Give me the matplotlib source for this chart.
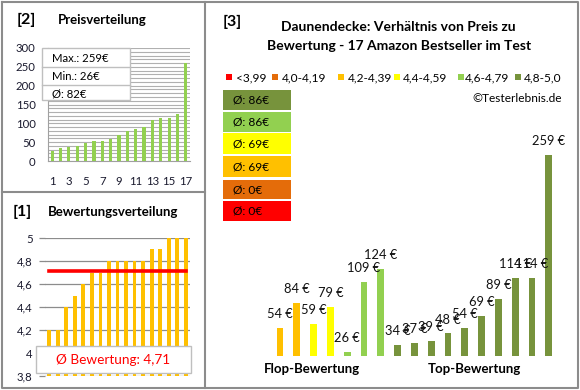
import matplotlib
matplotlib.use('Agg')
import matplotlib.pyplot as plt
from matplotlib.patches import Rectangle
from matplotlib.lines import Line2D

plt.rcParams['font.family'] = ['Lato', 'DejaVu Sans']

# ---------------- data ----------------
price_positions = list(range(1, 18))
price_sorted = [26, 34, 37, 39, 48, 54, 54, 59, 69, 79, 84, 89, 109, 114, 114, 124, 259]
price_xticks = [1, 3, 5, 7, 9, 11, 13, 15, 17]
price_yticks = [0, 50, 100, 150, 200, 250, 300]
price_stats = ["Max.: 259€", "Min.: 26€", "Ø: 82€"]

rating_sorted = [4.2, 4.2, 4.4, 4.5, 4.6, 4.7, 4.7, 4.8, 4.8, 4.8, 4.8, 4.8, 4.9, 4.9, 5.0, 5.0, 5.0]
rating_avg = 4.71
rating_yticks = [3.8, 4.0, 4.2, 4.4, 4.6, 4.8, 5.0]
rating_ytick_labels = ["3,8", "4", "4,2", "4,4", "4,6", "4,8", "5"]
rating_avg_label = "Ø Bewertung: 4,71"

p3_prices = [54, 84, 59, 79, 26, 109, 124, 34, 37, 39, 48, 54, 69, 89, 114, 114, 259]
p3_groups = [2, 2, 3, 3, 4, 4, 4, 5, 5, 5, 5, 5, 5, 5, 5, 5, 5]
legend_labels = ["<3,99", "4,0-4,19", "4,2-4,39", "4,4-4,59", "4,6-4,79", "4,8-5,0"]
legend_colors = ['#FF0000', '#E46C0A', '#FFC000', '#FFFF00', '#92D050', '#77933C']
group_avg_labels = ["Ø: 0€", "Ø: 0€", "Ø: 69€", "Ø: 69€", "Ø: 86€", "Ø: 86€"]  # same order as legend

W, H = 580, 390
fig = plt.figure(figsize=(W / 100, H / 100), dpi=100)

def fx(x):
    return x / W

def fy(y):
    return 1 - y / H

def ftext(x, y, s, **kw):
    fig.text(fx(x), fy(y), s, **kw)

def frect(x0, y0, x1, y1, **kw):
    fig.patches.append(Rectangle((fx(x0), fy(y1)), fx(x1) - fx(x0), fy(y0) - fy(y1),
                                 transform=fig.transFigure, figure=fig, **kw))

def fline(xs, ys, **kw):
    fig.lines.append(Line2D([fx(v) for v in xs], [fy(v) for v in ys],
                            transform=fig.transFigure, figure=fig, **kw))

border = '#8C8C8C'
fline([1.5, 578, 578, 1.5, 1.5], [1.5, 1.5, 388, 388, 1.5], color=border, lw=1.5)
fline([205, 205], [1.5, 388], color=border, lw=1.5)
fline([1.5, 205], [192, 192], color=border, lw=1.5)

# ---------------- panel [2] price distribution ----------------
ax2 = fig.add_axes([fx(48), fy(161), (190 - 48) / W, (161 - 48) / H])
ax2.bar(price_positions, price_sorted, width=0.38, color='#92D050', zorder=3)
ax2.set_xlim(0.5, 17.5)
ax2.set_ylim(0, 300)
ax2.set_yticks(price_yticks)
ax2.set_yticks(range(0, 301, 10), minor=True)
ax2.set_xticks(price_xticks)
ax2.grid(axis='y', which='both', color='#B0B0B0', lw=0.8, zorder=0)
ax2.tick_params(axis='both', which='both', length=0, labelsize=8.2, colors='#000000')
ax2.tick_params(axis='x', pad=11)
ax2.tick_params(axis='y', pad=9)
for s in ['top', 'right']:
    ax2.spines[s].set_visible(False)
ax2.spines['left'].set_color('#A0A0A0')
ax2.spines['bottom'].set_color('#A0A0A0')
for lab in ax2.get_xticklabels() + ax2.get_yticklabels():
    lab.set_color('#1a1a2e')

ftext(17, 20, "[2]", fontsize=11.5, fontweight='bold', va='center', ha='left')
ftext(58, 20, "Preisverteilung", fontsize=9.5, fontweight='bold', va='center', ha='left')

frect(42, 48, 130, 100, facecolor='white', edgecolor='#BFBFBF', lw=1.0, zorder=5)
fline([42, 130], [67, 67], color='#BFBFBF', lw=1.0, zorder=6)
fline([42, 130], [85, 85], color='#BFBFBF', lw=1.0, zorder=6)
for i, s in enumerate(price_stats):
    ftext(52, 59 + i * 17.5, s, fontsize=8.2, va='center', ha='left', zorder=7)

# ---------------- panel [1] rating distribution ----------------
ax1 = fig.add_axes([fx(45), fy(376), (190 - 45) / W, (376 - 238) / H])
ax1.bar(price_positions, [r - 3.8 for r in rating_sorted], bottom=3.8, width=0.45,
        color='#FFC000', zorder=3)
ax1.plot([1, 17], [rating_avg, rating_avg], color='#FF0000', lw=2.6, zorder=4)
ax1.set_xlim(0.5, 17.5)
ax1.set_ylim(3.8, 5.0)
ax1.set_yticks(rating_yticks)
ax1.set_yticklabels(rating_ytick_labels)
ax1.set_xticks([])
ax1.grid(axis='y', color='#8C8C8C', lw=0.9, zorder=0)
ax1.tick_params(axis='y', length=4, color='#8C8C8C', width=0.9, labelsize=8.2, pad=5)
for s in ['top', 'right', 'left', 'bottom']:
    ax1.spines[s].set_visible(False)
for lab in ax1.get_yticklabels():
    lab.set_color('#1a1a2e')

ftext(13, 212, "[1]", fontsize=11.5, fontweight='bold', va='center', ha='left')
ftext(48, 212, "Bewertungsverteilung", fontsize=9.5, fontweight='bold', va='center', ha='left')

frect(36, 346, 191, 373, facecolor='white', edgecolor='#BFBFBF', lw=1.0, zorder=5)
ftext(113, 360, rating_avg_label, fontsize=9.8, color='#FF0000', va='center', ha='center', zorder=7)

# ---------------- panel [3] price vs rating ----------------
ax3 = fig.add_axes([fx(271.6), fy(356), 285.6 / W, 235.5 / H])
bar_colors = [legend_colors[g] for g in p3_groups]
ax3.bar(price_positions, [p - 21.3 for p in p3_prices], bottom=21.3, width=0.4,
        color=bar_colors, zorder=3)
ax3.set_xlim(0.5, 17.5)
ax3.set_ylim(21.3, 300)
ax3.axis('off')
for x, p in zip(price_positions, p3_prices):
    ax3.annotate(f"{p} €", (x, p), xytext=(0, 10), textcoords='offset points',
                 ha='center', va='center', fontsize=9.3, color='#111111', zorder=5)

ftext(223, 22, "[3]", fontsize=11.5, fontweight='bold', va='center', ha='left')
ftext(398, 27, "Daunendecke: Verhältnis von Preis zu", fontsize=10, fontweight='bold',
      va='center', ha='center')
ftext(399, 46, "Bewertung - 17 Amazon Bestseller im Test", fontsize=10, fontweight='bold',
      va='center', ha='center')

sq_x = [226, 272, 338, 394, 458, 515]
tx_x = [236, 282, 348, 403, 465, 524]
for sx, tx, lab, col in zip(sq_x, tx_x, legend_labels, legend_colors):
    frect(sx, 74, sx + 6, 80, facecolor=col, edgecolor='none')
    ftext(tx, 78, lab, fontsize=8.6, va='center', ha='left')

ftext(562, 98, "©Testerlebnis.de", fontsize=8.6, va='center', ha='right')

box_y = [(90, 110), (112, 132), (133, 154), (156, 177), (180, 199), (201, 221)]
for (y0, y1), col, lab in zip(box_y, legend_colors[::-1], group_avg_labels[::-1]):
    frect(223, y0, 291, y1, facecolor=col, edgecolor='none')
    ftext(233, (y0 + y1) / 2, lab, fontsize=8.6, va='center', ha='left')

ftext(312, 369, "Flop-Bewertung", fontsize=9.5, fontweight='bold', va='center', ha='center')
ftext(474, 369, "Top-Bewertung", fontsize=9.5, fontweight='bold', va='center', ha='center')

fig.savefig('out.png', dpi=100)
